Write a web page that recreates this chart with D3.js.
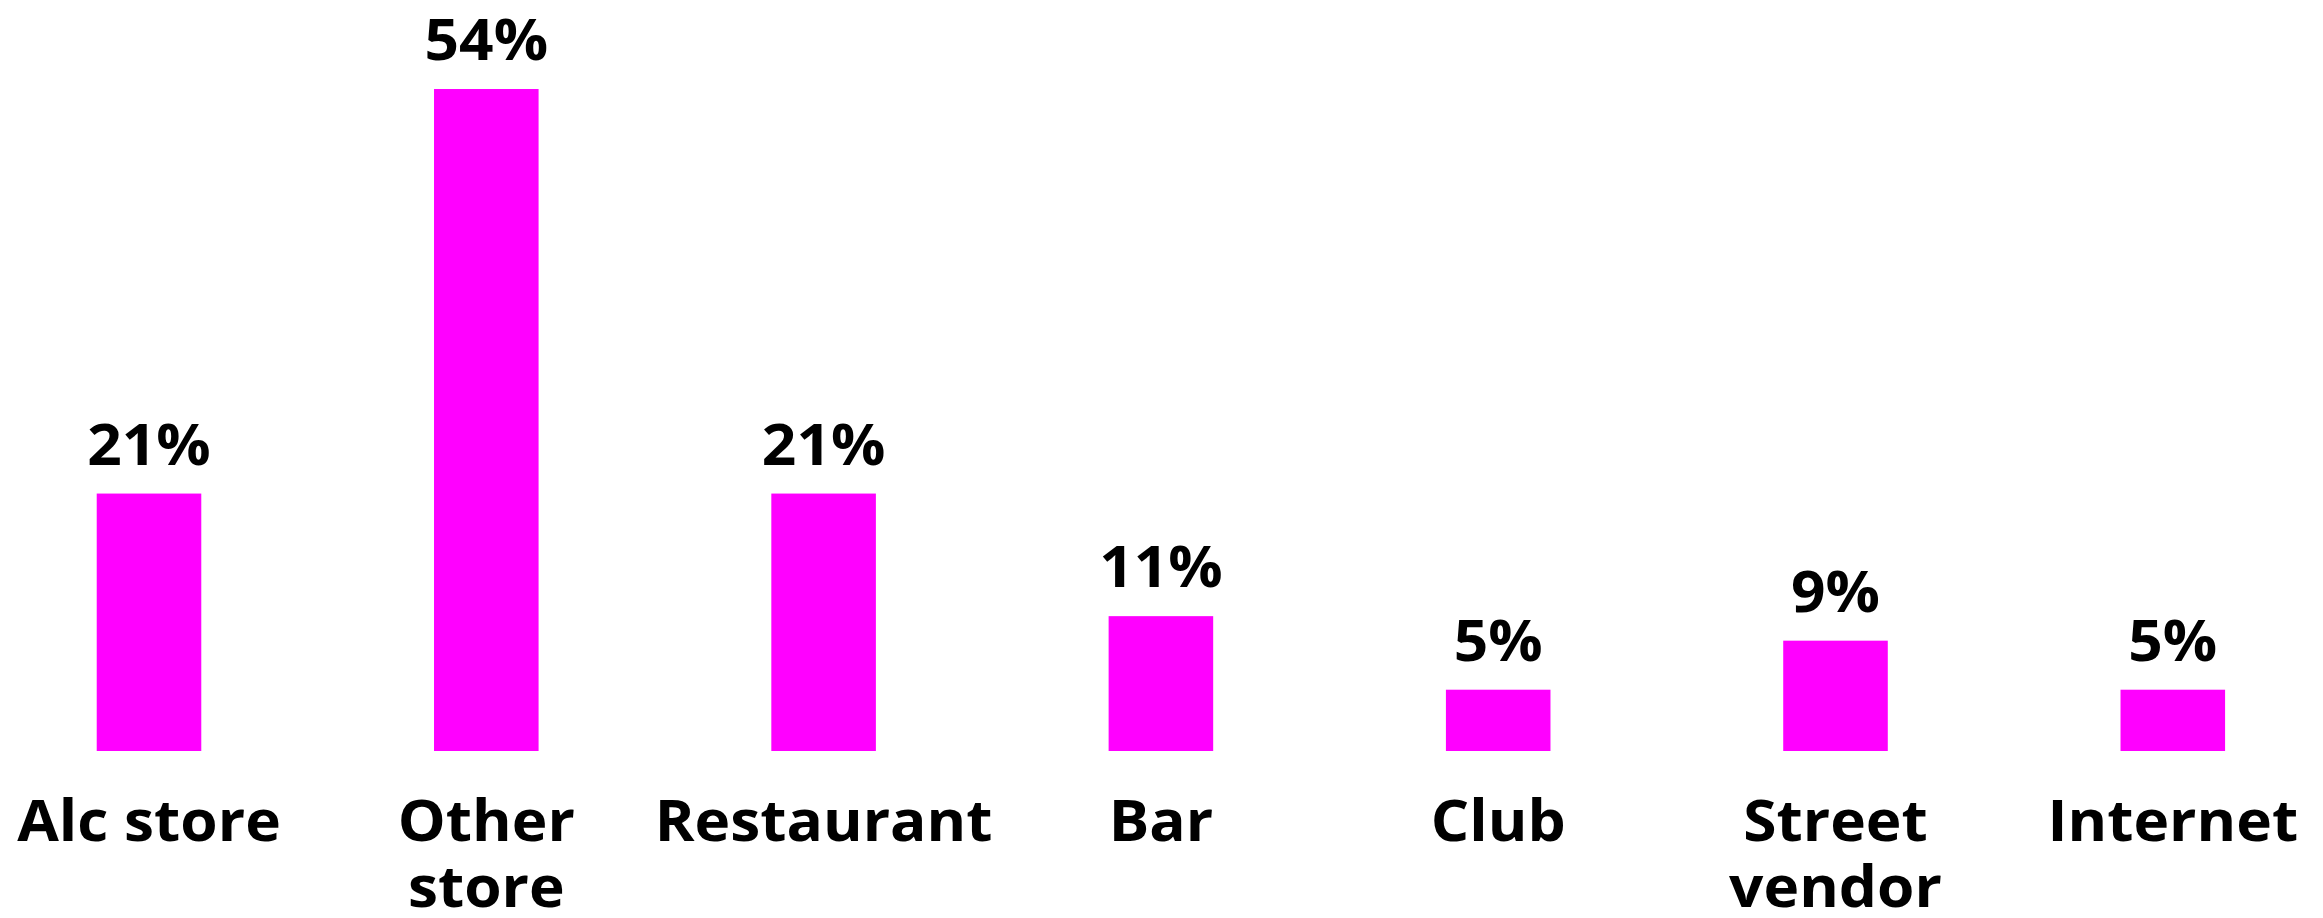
<!DOCTYPE html>
<html>
<head>
<meta charset="utf-8">
<script src="https://cdn.jsdelivr.net/npm/d3@7"></script>
<style>
  html, body { margin: 0; padding: 0; background: #fff; }
  svg { display: block; }
</style>
</head>
<body>
<svg id="chart" width="2323" height="918"></svg>
<script>
// Chart data
const categories = ["Alc store", "Other store", "Restaurant", "Bar", "Club", "Street vendor", "Internet"];
const categoryLines = [["Alc store"], ["Other", "store"], ["Restaurant"], ["Bar"], ["Club"], ["Street", "vendor"], ["Internet"]];
const values = [21, 54, 21, 11, 5, 9, 5];

const width = 2323, height = 918;
const baseY = 751;
const fontSize = 57;
const stretch = 1.06; // labels in the original are drawn a little wide

const svg = d3.select("#chart");

// x positions: evenly spaced bands
const step = 337.3;
const x = d3.scaleBand()
  .domain(categories)
  .range([149 - step / 2, 149 - step / 2 + step * categories.length])
  .paddingInner(0.69)
  .paddingOuter(0.345);

// y scale: 0..54 maps to bar bottom..top
const y = d3.scaleLinear()
  .domain([0, 54])
  .range([baseY, 89]);

const data = categories.map((c, i) => ({ cat: c, value: values[i], lines: categoryLines[i] }));

// Bars
svg.selectAll(".bar")
  .data(data)
  .join("rect")
  .attr("class", "bar")
  .attr("x", d => x(d.cat))
  .attr("y", d => y(d.value))
  .attr("width", x.bandwidth())
  .attr("height", d => y(0) - y(d.value))
  .attr("fill", "#ff00ff");

// Value labels
svg.selectAll(".val")
  .data(data)
  .join("text")
  .attr("class", "val")
  .attr("transform", d => `translate(${x(d.cat) + x.bandwidth() / 2},${y(d.value) - 29}) scale(${stretch},1)`)
  .attr("text-anchor", "middle")
  .attr("font-family", "'Open Sans', 'Noto Sans', sans-serif")
  .attr("font-weight", "bold")
  .attr("font-size", fontSize)
  .attr("fill", "#000")
  .text(d => d.value + "%");

// Category labels (may wrap onto two lines)
const cats = svg.selectAll(".cat")
  .data(data)
  .join("text")
  .attr("class", "cat")
  .attr("transform", d => `translate(${x(d.cat) + x.bandwidth() / 2},841) scale(${stretch},1)`)
  .attr("text-anchor", "middle")
  .attr("font-family", "'Open Sans', 'Noto Sans', sans-serif")
  .attr("font-weight", "bold")
  .attr("font-size", fontSize)
  .attr("fill", "#000");

cats.selectAll("tspan")
  .data(d => d.lines)
  .join("tspan")
  .attr("x", 0)
  .attr("dy", (d, i) => i === 0 ? 0 : 66)
  .text(d => d);
</script>
</body>
</html>
